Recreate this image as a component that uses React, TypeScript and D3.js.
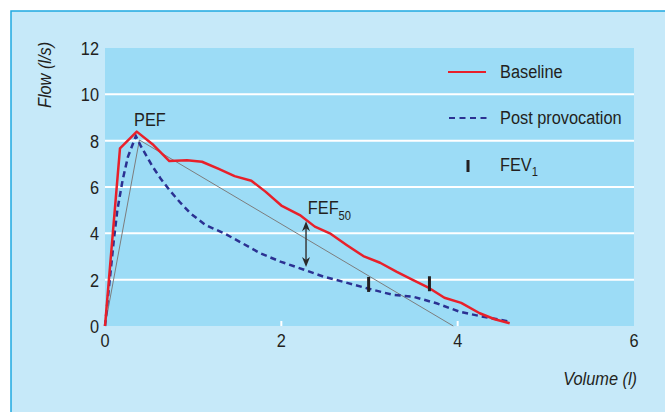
import { useEffect, useRef } from 'react'
import * as d3 from 'd3'

// Baseline flow-volume loop (expiratory limb)
const BASE_VOL = [0, 0.17, 0.36, 0.55, 0.73, 0.93, 1.1, 1.29, 1.47, 1.66, 1.82, 2.0, 2.21, 2.38, 2.55, 2.74, 2.93, 3.12, 3.31, 3.49, 3.68, 3.85, 4.04, 4.25, 4.42, 4.59]
const BASE_FLOW = [0, 7.67, 8.39, 7.81, 7.12, 7.15, 7.09, 6.78, 6.47, 6.27, 5.8, 5.2, 4.79, 4.29, 4.0, 3.5, 3.02, 2.73, 2.34, 1.99, 1.63, 1.22, 1.0, 0.55, 0.29, 0.12]

// Post provocation
const POST_VOL = [0, 0.1, 0.14, 0.2, 0.26, 0.35, 0.41, 0.54, 0.63, 0.73, 0.86, 0.97, 1.14, 1.35, 1.46, 1.76, 1.99, 2.25, 2.48, 2.7, 2.97, 3.27, 3.49, 3.76, 4.02, 4.25, 4.59]
const POST_FLOW = [0, 3.7, 5.0, 6.3, 7.3, 8.2, 7.74, 6.88, 6.37, 5.87, 5.3, 4.86, 4.36, 4.0, 3.78, 3.14, 2.78, 2.44, 2.13, 1.91, 1.63, 1.34, 1.27, 0.98, 0.62, 0.43, 0.19]

// thin grey construction line (origin -> PEF -> extrapolated volume)
const GUIDE_VOL = [0, 0.39, 3.95]
const GUIDE_FLOW = [0, 8.03, 0]

// FEV1 markers [volume, flow]
const FEV1_VOL = [2.99, 3.68]
const FEV1_FLOW = [1.6, 1.63]

const X_TICKS = [0, 2, 4, 6]
const Y_TICKS = [0, 2, 4, 6, 8, 10, 12]

const FONT = "'Liberation Sans', Arial, sans-serif"
const TEXT = '#231f20'
const RED = '#e8202a'
const NAVY = '#2b3192'

type Sel = d3.Selection<SVGSVGElement, unknown, null, undefined>

// condensed-looking text: Liberation Sans squeezed horizontally
function addText(svg: Sel, tx: string, str: string, anchor = 'start', italic = false) {
  const t = svg.append('g')
    .attr('transform', `${tx} scale(0.86,1)`)
    .append('text')
    .attr('text-anchor', anchor)
    .attr('font-family', FONT)
    .attr('font-size', 19)
    .attr('font-style', italic ? 'italic' : 'normal')
    .attr('fill', TEXT)
  if (str) t.text(str)
  return t
}

export default function App() {
  const svgRef = useRef<SVGSVGElement>(null)

  useEffect(() => {
    if (!svgRef.current) return
    const svg = d3.select(svgRef.current)
    svg.selectAll('*').remove()

    const width = 665
    const height = 412

    const x = d3.scaleLinear().domain([0, 6]).range([105, 634])
    const y = d3.scaleLinear().domain([0, 12]).range([326, 48])

    // outer panel
    svg.append('rect')
      .attr('x', 11).attr('y', 11)
      .attr('width', width + 20).attr('height', height + 20)
      .attr('fill', '#c6e9f9')
      .attr('stroke', '#1fa9e1')
      .attr('stroke-width', 1.5)

    // plot area
    svg.append('rect')
      .attr('x', x(0)).attr('y', y(12))
      .attr('width', x(6) - x(0)).attr('height', y(0) - y(12))
      .attr('fill', '#9cdcf6')

    // horizontal gridlines
    Y_TICKS.filter(t => t > 0 && t < 12).forEach(t => {
      svg.append('line')
        .attr('x1', x(0)).attr('x2', x(6))
        .attr('y1', y(t)).attr('y2', y(t))
        .attr('stroke', '#ffffff')
        .attr('stroke-width', 2)
    })

    // small white ticks on the bottom edge
    X_TICKS.filter(t => t > 0 && t < 6).forEach(t => {
      svg.append('line')
        .attr('x1', x(t)).attr('x2', x(t))
        .attr('y1', y(0) - 5).attr('y2', y(0))
        .attr('stroke', '#ffffff')
        .attr('stroke-width', 2)
    })

    // y tick labels
    Y_TICKS.forEach(t => {
      addText(svg, `translate(99,${y(t) + 7})`, String(t), 'end')
    })

    // x tick labels
    X_TICKS.forEach(t => {
      addText(svg, `translate(${x(t)},347)`, String(t), 'middle')
    })

    // axis titles
    addText(svg, 'translate(51,75) rotate(-90)', 'Flow (l/s)', 'middle', true)
    addText(svg, 'translate(637,385)', 'Volume (l)', 'end', true)

    const line = d3.line<[number, number]>()
      .x(d => x(d[0]))
      .y(d => y(d[1]))

    // grey construction line
    svg.append('path')
      .attr('d', line(GUIDE_VOL.map((v, i) => [v, GUIDE_FLOW[i]])))
      .attr('fill', 'none')
      .attr('stroke', '#7d7d7d')
      .attr('stroke-width', 1)

    // post provocation (dashed)
    svg.append('path')
      .attr('d', line(POST_VOL.map((v, i) => [v, POST_FLOW[i]])))
      .attr('fill', 'none')
      .attr('stroke', NAVY)
      .attr('stroke-width', 2.5)
      .attr('stroke-dasharray', '6,4')

    // baseline
    svg.append('path')
      .attr('d', line(BASE_VOL.map((v, i) => [v, BASE_FLOW[i]])))
      .attr('fill', 'none')
      .attr('stroke', RED)
      .attr('stroke-width', 2.5)
      .attr('stroke-linejoin', 'round')

    // FEV1 markers
    FEV1_VOL.forEach((v, i) => {
      svg.append('line')
        .attr('x1', x(v)).attr('x2', x(v))
        .attr('y1', y(FEV1_FLOW[i]) - 12).attr('y2', y(FEV1_FLOW[i]) + 3)
        .attr('stroke', '#231f20')
        .attr('stroke-width', 3)
    })

    // PEF label
    addText(svg, `translate(${x(0.33)},${y(8.65)})`, 'PEF')

    // FEF50 double arrow
    const ax = x(2.28)
    const yTop = y(4.52)
    const yBot = y(2.55)
    svg.append('line')
      .attr('x1', ax).attr('x2', ax)
      .attr('y1', yTop + 6).attr('y2', yBot - 6)
      .attr('stroke', '#3a3a3a')
      .attr('stroke-width', 1.5)
    svg.append('path')
      .attr('d', `M${ax},${yTop} L${ax - 4},${yTop + 10} L${ax},${yTop + 7} L${ax + 4},${yTop + 10} Z`)
      .attr('fill', '#2a2a2a')
    svg.append('path')
      .attr('d', `M${ax},${yBot} L${ax - 4},${yBot - 10} L${ax},${yBot - 7} L${ax + 4},${yBot - 10} Z`)
      .attr('fill', '#2a2a2a')

    const fef = addText(svg, `translate(${x(2.3)},${y(4.83)})`, '')
    fef.append('tspan').text('FEF')
    fef.append('tspan').attr('dy', 6).attr('font-size', 13).text('50')

    // legend
    svg.append('line')
      .attr('x1', 448).attr('x2', 486).attr('y1', 72).attr('y2', 72)
      .attr('stroke', RED).attr('stroke-width', 2)
    addText(svg, 'translate(500,78)', 'Baseline')

    svg.append('line')
      .attr('x1', 449).attr('x2', 487).attr('y1', 118).attr('y2', 118)
      .attr('stroke', NAVY).attr('stroke-width', 2)
      .attr('stroke-dasharray', '6,4.5')
    addText(svg, 'translate(500,124)', 'Post provocation')

    svg.append('line')
      .attr('x1', 468).attr('x2', 468).attr('y1', 160).attr('y2', 172)
      .attr('stroke', '#231f20').attr('stroke-width', 3)
    const fev = addText(svg, 'translate(500,171)', '')
    fev.append('tspan').text('FEV')
    fev.append('tspan').attr('dy', 5).attr('font-size', 13).text('1')
  }, [])

  return (
    <svg
      ref={svgRef}
      width={665}
      height={412}
      style={{ position: 'absolute', left: 0, top: 0, background: '#ffffff' }}
    />
  )
}
